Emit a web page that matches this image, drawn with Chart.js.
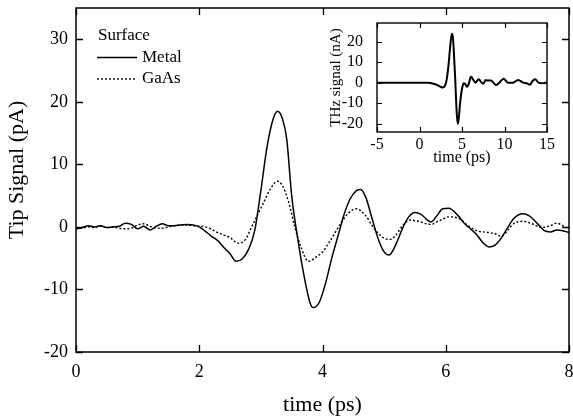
<!DOCTYPE html>
<html><head><meta charset="utf-8">
<script src="https://cdn.jsdelivr.net/npm/chart.js@4.4.1/dist/chart.umd.min.js"></script>
<style>
html,body{margin:0;padding:0;background:#fff;overflow:hidden}
#wrap{position:relative;width:573px;height:416px;background:#fff}
#main{position:absolute;left:0;top:0;width:573px;height:416px}
#inset{position:absolute;left:325px;top:13px;width:240px;height:155px}
</style></head>
<body><div id="wrap"><canvas id="main" width="573" height="416"></canvas><canvas id="inset" width="240" height="155"></canvas></div>
<script>
// ---- data ----
const metalTime = [0,0.1,0.2,0.3,0.4,0.5,0.6,0.7,0.8,0.9,1.0,1.1,1.2,1.3,1.4,1.5,1.6,1.7,1.8,1.9,2.0,2.1,2.2,2.3,2.4,2.5,2.6,2.7,2.8,2.9,3.0,3.1,3.2,3.27,3.35,3.42,3.5,3.6,3.7,3.8,3.85,3.95,4.05,4.15,4.25,4.35,4.45,4.55,4.62,4.7,4.8,4.9,5.0,5.08,5.2,5.3,5.4,5.5,5.6,5.7,5.76,5.85,5.95,6.05,6.2,6.3,6.4,6.5,6.6,6.7,6.8,6.9,7.0,7.1,7.25,7.35,7.5,7.6,7.7,7.8,7.9,8.0];
const metalSignal = [-0.3,-0.1,0.2,0.0,0.2,-0.1,0.0,0.1,0.6,0.4,-0.3,0.1,-0.5,0.1,0.5,0.2,0.2,0.3,0.4,0.3,0.0,-0.7,-1.5,-2.2,-3.3,-4.3,-5.5,-5.1,-3.6,-0.6,5.8,12.8,17.3,18.5,17.3,14.0,5.0,-2.0,-7.8,-12.2,-12.9,-12.0,-9.0,-5.0,-1.5,2.0,4.5,5.8,6.0,4.8,1.5,-1.8,-4.0,-4.5,-2.6,-0.2,1.6,2.3,2.0,1.1,0.8,1.7,2.9,3.0,1.8,0.6,-0.3,-1.2,-2.5,-3.2,-2.9,-1.8,-0.2,1.3,2.1,1.8,0.4,-0.6,-0.8,-0.5,-0.6,-0.9];
const gaasTime = [0,0.1,0.2,0.3,0.4,0.5,0.6,0.7,0.8,0.9,1.0,1.1,1.2,1.3,1.4,1.5,1.6,1.7,1.8,1.9,2.0,2.1,2.2,2.3,2.4,2.5,2.6,2.65,2.75,2.85,2.95,3.05,3.15,3.27,3.35,3.45,3.55,3.65,3.77,3.9,4.0,4.1,4.2,4.3,4.42,4.55,4.7,4.8,4.9,5.0,5.1,5.2,5.3,5.42,5.55,5.75,5.9,6.05,6.2,6.35,6.5,6.7,6.8,6.9,7.0,7.1,7.25,7.4,7.55,7.7,7.8,7.9,8.0];
const gaasSignal = [-0.3,-0.2,0.0,-0.1,0.1,-0.1,0.0,-0.2,-0.3,-0.2,0.3,0.5,0.1,-0.2,-0.2,0.0,0.2,0.3,0.3,0.2,0.1,0.0,-0.4,-0.9,-1.3,-1.7,-2.5,-2.6,-2.0,0.0,2.0,4.0,6.0,7.3,6.6,4.0,0.0,-3.2,-5.5,-4.8,-4.0,-2.6,-1.0,0.6,2.2,2.9,1.8,0.3,-1.0,-1.8,-2.0,-1.2,0.2,1.1,0.9,0.4,1.0,1.6,1.4,0.3,-0.6,-0.9,-1.1,-1.5,-0.6,0.5,0.9,0.5,-0.1,0.2,0.6,0.2,-0.3];
const thzTime = [-5,-4,-3,-2,-1,0,0.5,1,1.5,2,2.5,2.7,3.0,3.2,3.4,3.6,3.8,3.9,4.0,4.1,4.2,4.3,4.4,4.5,4.6,4.8,5.0,5.2,5.4,5.6,5.8,6.0,6.1,6.3,6.6,6.8,7.0,7.2,7.5,7.8,8.0,8.4,8.7,9.0,9.4,9.9,10.4,11.0,11.6,12.2,12.6,13.0,13.3,13.6,14.0,14.4,15];
const thzSignal = [0,0,0,0,0,0,0,-0.1,-0.4,-1.0,-2.0,-2.4,-1.5,1.5,8,17,23.8,23,18,10,2,-8,-16,-20,-18,-9,-3,-0.3,-0.8,-2,-0.5,2.5,2.9,1.5,0,1.0,1.6,0.5,-0.5,1.3,1.0,1.1,0,-1.2,0,1.9,0,0,1.3,0,-0.3,-1.0,0.8,1.7,0,-0.3,0.2];
const mainXTicks = [0,2,4,6,8];
const mainYTicks = [-20,-10,0,10,20,30];
const insetXTicks = [-5,0,5,10,15];
const insetYTicks = [-20,-10,0,10,20];
const seriesNames = ['Metal','GaAs'];
const legendTitle = 'Surface';

const toPts = (xs, ys) => xs.map((x, i) => ({x, y: ys[i]}));
const SERIF = "'Liberation Serif', 'Times New Roman', serif";
const noPad = s => { s.paddingLeft = 0; s.paddingRight = 0; s.paddingTop = 0; s.paddingBottom = 0; };

const frameTicks = {
  id: 'frameTicks',
  afterDatasetsDraw(chart, args, opts) {
    const {ctx, chartArea: a, scales: {x, y}} = chart;
    const L = opts.len;
    ctx.save();
    ctx.strokeStyle = '#000';
    ctx.lineWidth = opts.width;
    ctx.beginPath();
    x.ticks.forEach(t => {
      const p = Math.round(x.getPixelForValue(t.value)) + 0.5;
      ctx.moveTo(p, a.bottom); ctx.lineTo(p, a.bottom - L);
      ctx.moveTo(p, a.top); ctx.lineTo(p, a.top + L);
    });
    y.ticks.forEach(t => {
      const p = Math.round(y.getPixelForValue(t.value)) + 0.5;
      ctx.moveTo(a.left, p); ctx.lineTo(a.left + L, p);
      ctx.moveTo(a.right, p); ctx.lineTo(a.right - L, p);
    });
    ctx.stroke();
    ctx.lineWidth = opts.frame;
    ctx.strokeRect(a.left, a.top, a.right - a.left, a.bottom - a.top);
    ctx.restore();
  }
};

const extras = {
  id: 'extras',
  afterDraw(chart, args, opts) {
    const ctx = chart.ctx;
    ctx.save();
    ctx.fillStyle = '#000';
    ctx.textBaseline = 'middle';
    ctx.font = '22px ' + SERIF;
    ctx.textAlign = 'center';
    ctx.translate(opts.yTitleX, opts.yTitleY);
    ctx.rotate(-Math.PI / 2);
    ctx.fillText(opts.yTitle, 0, 0);
    ctx.setTransform(1, 0, 0, 1, 0, 0);
    ctx.font = '17px ' + SERIF;
    ctx.textAlign = 'left';
    ctx.fillText(legendTitle, opts.lx + 1, opts.ly);
    chart.data.datasets.forEach((ds, i) => {
      const yy = opts.ly + opts.lstep * (i + 1);
      ctx.strokeStyle = ds.borderColor;
      ctx.lineWidth = ds.borderWidth;
      ctx.setLineDash(ds.borderDash || []);
      ctx.beginPath();
      ctx.moveTo(opts.lx, yy); ctx.lineTo(opts.lx + opts.lw, yy);
      ctx.stroke();
      ctx.setLineDash([]);
      ctx.fillText(ds.label, opts.lx + opts.lw + 5, yy);
    });
    ctx.restore();
  }
};

new Chart(document.getElementById('main'), {
  type: 'line',
  data: {
    datasets: [
      {label: seriesNames[0], data: toPts(metalTime, metalSignal), borderColor: '#000', borderWidth: 1.5, pointRadius: 0, cubicInterpolationMode: 'monotone', fill: false},
      {label: seriesNames[1], data: toPts(gaasTime, gaasSignal), borderColor: '#000', borderWidth: 1.4, borderDash: [2, 2], pointRadius: 0, cubicInterpolationMode: 'monotone', fill: false}
    ]
  },
  options: {
    responsive: false, animation: false, devicePixelRatio: 1,
    layout: {padding: {top: 8, right: 4, left: 0, bottom: 0}},
    plugins: {
      legend: {display: false}, tooltip: {enabled: false},
      frameTicks: {len: 7, width: 1.3, frame: 1.5},
      extras: {yTitle: 'Tip Signal (pA)', yTitleX: 17, yTitleY: 170, lx: 97, ly: 36, lstep: 21.5, lw: 40}
    },
    scales: {
      x: {
        type: 'linear', min: 0, max: 8,
        afterFit: s => { s.height = 64; noPad(s); },
        afterBuildTicks: s => { s.ticks = mainXTicks.map(v => ({value: v})); },
        grid: {display: false, drawTicks: false}, border: {display: false},
        ticks: {color: '#000', padding: 9, font: {family: SERIF, size: 18}, maxRotation: 0},
        title: {display: true, text: 'time (ps)', color: '#000', font: {family: SERIF, size: 22}, padding: {top: 0, bottom: -2}}
      },
      y: {
        type: 'linear', min: -20, max: 35,
        afterFit: s => { s.width = 76; noPad(s); },
        afterBuildTicks: s => { s.ticks = mainYTicks.map(v => ({value: v})); },
        grid: {display: false, drawTicks: false}, border: {display: false},
        ticks: {color: '#000', padding: 8, font: {family: SERIF, size: 18}},
        title: {display: false}
      }
    }
  },
  plugins: [frameTicks, extras]
});

new Chart(document.getElementById('inset'), {
  type: 'line',
  data: {
    datasets: [
      {label: 'THz', data: toPts(thzTime, thzSignal), borderColor: '#000', borderWidth: 2, pointRadius: 0, cubicInterpolationMode: 'monotone', fill: false}
    ]
  },
  options: {
    responsive: false, animation: false, devicePixelRatio: 1,
    layout: {padding: {top: 10, right: 18, left: 0, bottom: 0}},
    plugins: {
      legend: {display: false}, tooltip: {enabled: false},
      frameTicks: {len: 5, width: 1.2, frame: 1.4}
    },
    scales: {
      x: {
        type: 'linear', min: -5, max: 15,
        afterFit: s => { s.height = 36; noPad(s); },
        afterBuildTicks: s => { s.ticks = insetXTicks.map(v => ({value: v})); },
        grid: {display: false, drawTicks: false}, border: {display: false},
        ticks: {color: '#000', padding: 3, font: {family: SERIF, size: 16}, maxRotation: 0},
        title: {display: true, text: 'time (ps)', color: '#000', font: {family: SERIF, size: 16}, padding: {top: 0, bottom: 1}}
      },
      y: {
        type: 'linear', min: -24, max: 29,
        afterFit: s => { s.width = 52; noPad(s); },
        afterBuildTicks: s => { s.ticks = insetYTicks.map(v => ({value: v})); },
        grid: {display: false, drawTicks: false}, border: {display: false},
        ticks: {color: '#000', padding: 14, font: {family: SERIF, size: 16}},
        title: {display: true, text: 'THz signal (nA)', color: '#000', font: {family: SERIF, size: 15}, padding: {top: 2, bottom: 0}}
      }
    }
  },
  plugins: [frameTicks]
});
</script>
</body></html>
